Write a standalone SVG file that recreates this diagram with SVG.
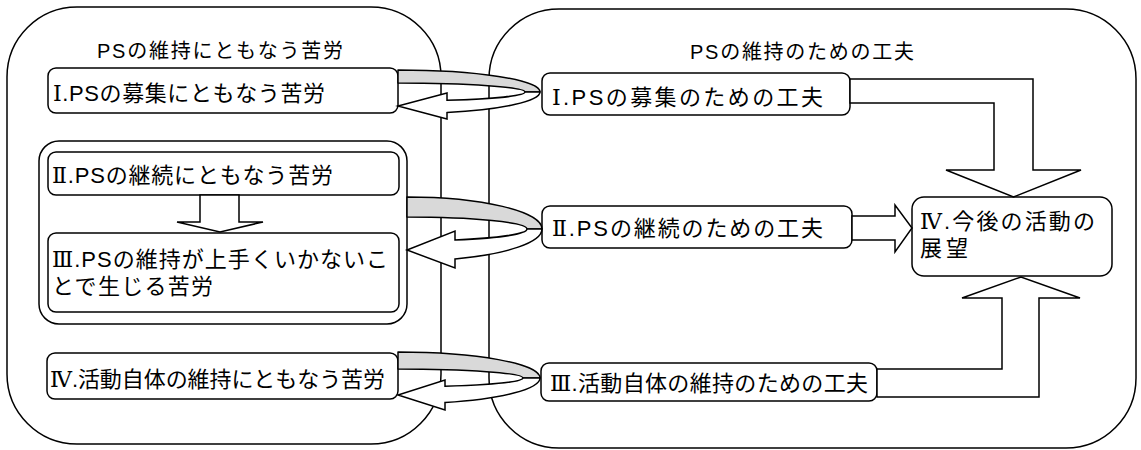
<svg xmlns="http://www.w3.org/2000/svg" width="1141" height="450" viewBox="0 0 1141 450">
<style>
.c{fill:#fff;stroke:#000;stroke-width:1.5}
.b{fill:#fff;stroke:#000;stroke-width:1.5}
.g{fill:#d9d9d9;stroke:#000;stroke-width:1.5;stroke-linejoin:round}
.w{fill:#fff;stroke:#000;stroke-width:1.5;stroke-linejoin:miter}
text{font-family:"Liberation Sans","Noto Sans CJK JP",sans-serif;fill:#000}
.t{font-size:20px}
.n{font-size:22px}
.r{font-family:"DejaVu Serif","Liberation Serif","Noto Sans CJK JP",serif}
</style>
<rect width="1141" height="450" fill="#fff"/>
<g id="left-container">
<rect class="c" x="7" y="7" width="434" height="437" rx="70"/>
<text class="t" x="97" y="57.5" textLength="246" lengthAdjust="spacing">PSの維持にともなう苦労</text>
</g>
<g id="right-container">
<rect class="c" x="489" y="9" width="647" height="439" rx="70"/>
<text class="t" x="690" y="58.5" textLength="224" lengthAdjust="spacing">PSの維持のための工夫</text>
</g>
<g id="group-2-3">
<rect class="b" x="39" y="141" width="368" height="183" rx="20"/>
</g>
<g id="L1">
<rect class="b" x="48" y="68" width="350" height="45" rx="8"/>
<text class="n" x="53" y="101" textLength="272" lengthAdjust="spacing"><tspan class="r">Ⅰ</tspan>.PSの募集にともなう苦労</text>
</g>
<g id="L2">
<rect class="b" x="48" y="152" width="351" height="43" rx="8"/>
<text class="n" x="52" y="183" textLength="281" lengthAdjust="spacing"><tspan class="r">Ⅱ</tspan>.PSの継続にともなう苦労</text>
</g>
<g id="L3">
<rect class="b" x="48" y="233" width="351" height="79" rx="8"/>
<text class="n" x="52" y="266.5" textLength="336" lengthAdjust="spacing"><tspan class="r">Ⅲ</tspan>.PSの維持が上手くいかないこ</text>
<text class="n" x="52" y="293.5" textLength="161" lengthAdjust="spacing">とで生じる苦労</text>
</g>
<g id="L4">
<rect class="b" x="47" y="353" width="351" height="46" rx="8"/>
<text class="n" x="50" y="386.5" textLength="335" lengthAdjust="spacing"><tspan class="r">Ⅳ</tspan>.活動自体の維持にともなう苦労</text>
</g>
<g id="R1">
<rect class="b" x="542" y="73" width="308" height="42" rx="8"/>
<text class="n" x="552" y="104.5" textLength="271" lengthAdjust="spacing"><tspan class="r">Ⅰ</tspan>.PSの募集のための工夫</text>
</g>
<g id="R2">
<rect class="b" x="542" y="206" width="310" height="42" rx="8"/>
<text class="n" x="552" y="235.5" textLength="271" lengthAdjust="spacing"><tspan class="r">Ⅱ</tspan>.PSの継続のための工夫</text>
</g>
<g id="R3">
<rect class="b" x="541" y="363" width="336" height="38" rx="8"/>
<text class="n" x="550" y="390.5" textLength="318" lengthAdjust="spacing"><tspan class="r">Ⅲ</tspan>.活動自体の維持のための工夫</text>
</g>
<g id="R4">
<rect class="b" x="912" y="197" width="200" height="79" rx="12"/>
<text class="n" x="920" y="228.5" textLength="175" lengthAdjust="spacing"><tspan class="r">Ⅳ</tspan>.今後の活動の</text>
<text class="n" x="920" y="255.5" textLength="48" lengthAdjust="spacing">展望</text>
</g>
<g id="connectors">
<polygon class="w" points="200,195 239,195 239,222 263,222 220,232 177,222 200,222"/>
<path class="g" d="M398,70 A142,22 0 0 1 540,92 L525,92 A127,9 0 0 0 398,83 Z"/>
<path class="w" d="M540,92 A142,22 0 0 1 447,112.6 L447,119 L398,106 L447,93 L447,100.3 A127,9 0 0 0 525,92 Z"/>
<path class="g" d="M407,197 A135,32 0 0 1 542,229 L527,229 A120,12 0 0 0 407,217 Z"/>
<path class="w" d="M542,229 A135,32 0 0 1 455,258.9 L455,268 L407,250 L455,231 L455,240 A120,12 0 0 0 527,229 Z"/>
<path class="g" d="M398,352 A142,26 0 0 1 540,378 L523,378 A125,9 0 0 0 398,369 Z"/>
<path class="w" d="M540,378 A142,26 0 0 1 445,402.5 L445,410 L398,395 L445,380 L445,386.3 A125,9 0 0 0 523,378 Z"/>
<polygon class="w" points="850,79 1033,79 1033,170 1081,170 1013.5,197 946,170 994,170 994,103 850,103"/>
<polygon class="w" points="852,216 895,216 895,205 912,228 895,252 895,240 852,240"/>
<polygon class="w" points="877,397 1039,397 1039,298 1080,298 1021,277 962,298 1002,298 1002,369 877,369"/>
</g>
</svg>
